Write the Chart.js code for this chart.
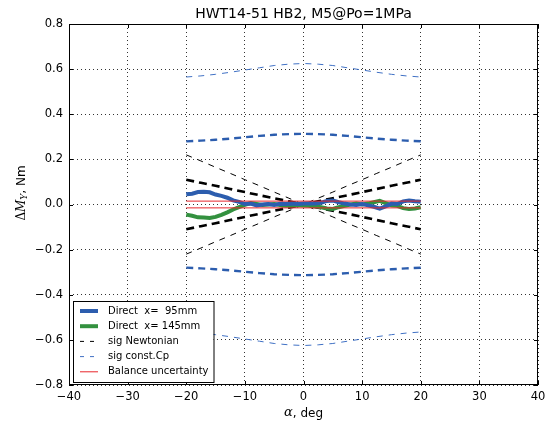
<!DOCTYPE html>
<html>
<head>
<meta charset="utf-8">
<script src="https://cdn.jsdelivr.net/npm/chart.js@4.4.1/dist/chart.umd.min.js"></script>
<style>
  html, body { margin: 0; padding: 0; background: #fff; }
  #wrap { width: 551px; height: 425px; }
</style>
</head>
<body>
<div id="wrap"><canvas id="c" width="551" height="425"></canvas></div>
<script>
// measured points, alpha in deg
const alpha = [-20,-19,-18,-17,-16,-15,-14,-13,-12,-11,-10,-9,-8,-7,-6,-5,-4,-3,-2,-1,0,
               1,2,3,4,5,6,7,8,9,10,11,12,13,14,15,16,17,18,19,20];
const direct95 = [0.045,0.048,0.055,0.056,0.054,0.044,0.038,0.030,0.018,0.012,0.002,
                  0.004,-0.004,0.000,0.002,-0.002,0.003,0.002,0.004,0.002,0.004,
                  0.006,0.004,0.008,0.016,0.018,0.010,0.004,0.000,-0.002,0.002,
                  -0.004,-0.010,-0.018,-0.008,0.004,0.002,0.014,0.018,0.014,0.012];
const direct145 = [-0.045,-0.050,-0.057,-0.058,-0.060,-0.055,-0.046,-0.035,-0.022,-0.012,-0.002,
                   0.006,0.002,-0.002,0.000,0.002,-0.002,-0.006,-0.004,-0.002,-0.004,
                   -0.006,-0.008,-0.012,-0.018,-0.020,-0.012,-0.006,0.000,0.004,0.000,
                   0.004,0.010,0.016,0.006,-0.004,-0.006,-0.016,-0.020,-0.018,-0.012];

// sigma bands (plotted as +/-)
const sigAlpha = [-20,-17.5,-15,-12.5,-10,-7.5,-5,-2.5,0,2.5,5,7.5,10,12.5,15,17.5,20];
const sigNewton1 = [0.110,0.096,0.083,0.069,0.055,0.041,0.028,0.014,0,0.014,0.028,0.041,0.055,0.069,0.083,0.096,0.110];
const sigNewton2 = [0.220,0.193,0.165,0.138,0.110,0.083,0.055,0.028,0,0.028,0.055,0.083,0.110,0.138,0.165,0.193,0.220];
const sigCp1 = [0.280,0.283,0.287,0.292,0.298,0.304,0.309,0.312,0.313,0.312,0.309,0.304,0.298,0.292,0.287,0.283,0.280];
const sigCp2 = [0.565,0.570,0.577,0.586,0.596,0.606,0.616,0.622,0.625,0.622,0.616,0.606,0.596,0.586,0.577,0.570,0.565];

const balAlpha = [-20, 20];
const balance = [0.015, 0.015];

const xTicks = [-40,-30,-20,-10,0,10,20,30,40];
const yTicks = [-0.8,-0.6,-0.4,-0.2,0,0.2,0.4,0.6,0.8];

const legendLabels = ['Direct  x=  95mm', 'Direct  x= 145mm', 'sig Newtonian', 'sig const.Cp', 'Balance uncertainty'];
const titleText = 'HWT14-51 HB2, M5@Po=1MPa';

const BLUE = '#2c5dae';
const GREEN = '#33913f';
const LBLUE = '#3f70c4';
const RED = '#e8262b';
const FONT = "'DejaVu Sans', sans-serif";

const pts = (xs, ys, sign = 1) => xs.map((x, i) => ({ x, y: sign * ys[i] }));
const line = (data, color, width, dash) => ({
  data, borderColor: color, borderWidth: width, borderDash: dash || [],
  pointRadius: 0, fill: false, tension: 0
});

// index 0 is drawn on top
const datasets = [
  line(pts(balAlpha, balance), RED, 1),
  line(pts(balAlpha, balance, -1), RED, 1),
  line(pts(alpha, direct95), BLUE, 4),
  line(pts(alpha, direct145), GREEN, 4),
  line(pts(sigAlpha, sigNewton1), '#000', 2.6, [8, 5]),
  line(pts(sigAlpha, sigNewton1, -1), '#000', 2.6, [8, 5]),
  line(pts(sigAlpha, sigNewton2), '#000', 1, [6, 6]),
  line(pts(sigAlpha, sigNewton2, -1), '#000', 1, [6, 6]),
  line(pts(sigAlpha, sigCp1), BLUE, 2.4, [7, 5]),
  line(pts(sigAlpha, sigCp1, -1), BLUE, 2.4, [7, 5]),
  line(pts(sigAlpha, sigCp2), LBLUE, 1, [6, 6]),
  line(pts(sigAlpha, sigCp2, -1), LBLUE, 1, [6, 6]),
];

const fmt = (v, d) => {
  if (Math.abs(v) < 1e-9) return d ? (0).toFixed(d) : '0';
  return v.toFixed(d).replace('-', '\u2212');
};

const decor = {
  id: 'decor',
  afterDraw(chart) {
    const { ctx, chartArea: a, scales: { x, y } } = chart;
    ctx.save();
    // frame + inward ticks
    ctx.strokeStyle = '#000';
    ctx.lineWidth = 1;
    ctx.setLineDash([]);
    ctx.strokeRect(a.left + 0.5, a.top + 0.5, a.right - a.left - 1, a.bottom - a.top - 1);
    ctx.beginPath();
    xTicks.forEach(t => {
      const px = Math.round(x.getPixelForValue(t)) + 0.5;
      ctx.moveTo(px, a.bottom); ctx.lineTo(px, a.bottom - 4);
      ctx.moveTo(px, a.top); ctx.lineTo(px, a.top + 4);
    });
    yTicks.forEach(t => {
      const py = Math.round(y.getPixelForValue(t)) + 0.5;
      ctx.moveTo(a.left, py); ctx.lineTo(a.left + 4, py);
      ctx.moveTo(a.right, py); ctx.lineTo(a.right - 4, py);
    });
    ctx.stroke();

    // title
    ctx.fillStyle = '#000';
    ctx.font = '14px ' + FONT;
    ctx.textAlign = 'center';
    ctx.textBaseline = 'middle';
    ctx.fillText(titleText, (a.left + a.right) / 2, 14);

    // x label
    ctx.font = 'italic 13px DejaVu Serif, serif';
    const w1 = ctx.measureText('\u03b1').width;
    ctx.font = '12px ' + FONT;
    const w2 = ctx.measureText(', deg').width;
    let sx = (a.left + a.right) / 2 - (w1 + w2) / 2;
    ctx.textAlign = 'left';
    ctx.font = 'italic 13px DejaVu Serif, serif';
    ctx.fillText('\u03b1', sx, 413);
    ctx.font = '12px ' + FONT;
    ctx.fillText(', deg', sx + w1, 414);

    // y label, rotated
    ctx.save();
    ctx.translate(22, 193);
    ctx.rotate(-Math.PI / 2);
    const parts = [
      ['\u0394', '12px DejaVu Serif, serif', 0],
      ['M', 'italic 12px DejaVu Serif, serif', 0],
      ['Y', 'italic 9px DejaVu Serif, serif', 3],
      [', Nm', '12px ' + FONT, 0],
    ];
    let tw = 0;
    parts.forEach(p => { ctx.font = p[1]; tw += ctx.measureText(p[0]).width; });
    let cx = -tw / 2;
    parts.forEach(p => {
      ctx.font = p[1];
      ctx.fillText(p[0], cx, p[2]);
      cx += ctx.measureText(p[0]).width;
    });
    ctx.restore();

    // legend box
    const lx = 73, ly = 301, lh = 81;
    ctx.font = '10px ' + FONT;
    const textX = lx + 35;
    const maxW = Math.max(...legendLabels.map(s => ctx.measureText(s).width));
    const lw = textX + maxW + 5 - lx;
    ctx.fillStyle = '#fff';
    ctx.fillRect(lx, ly, lw, lh);
    ctx.strokeStyle = '#000';
    ctx.lineWidth = 1;
    ctx.strokeRect(lx + 0.5, ly + 0.5, lw, lh);
    const styles = [
      { c: BLUE, w: 4, d: [] },
      { c: GREEN, w: 4, d: [] },
      { c: '#000', w: 1, d: [4, 6] },
      { c: LBLUE, w: 1, d: [4, 6] },
      { c: RED, w: 1, d: [] },
    ];
    legendLabels.forEach((s, i) => {
      const yy = ly + 10 + i * 15.2;
      const st = styles[i];
      ctx.strokeStyle = st.c;
      ctx.lineWidth = st.w;
      ctx.setLineDash(st.d);
      ctx.beginPath();
      ctx.moveTo(lx + 7, yy);
      ctx.lineTo(lx + 25, yy);
      ctx.stroke();
      ctx.setLineDash([]);
      ctx.fillStyle = '#000';
      ctx.textBaseline = 'middle';
      ctx.fillText(s, textX, yy);
    });
    ctx.restore();
  }
};

new Chart(document.getElementById('c'), {
  type: 'line',
  data: { datasets },
  options: {
    responsive: false,
    animation: false,
    layout: { padding: { top: 24, right: 13, left: 0, bottom: 0 } },
    plugins: { legend: { display: false }, tooltip: { enabled: false }, title: { display: false } },
    scales: {
      x: {
        type: 'linear', min: -40, max: 40,
        afterFit(s) { s.height = 40; },
        afterBuildTicks(s) { s.ticks = xTicks.map(v => ({ value: v })); },
        ticks: { color: '#000', font: { family: FONT, size: 11.5 }, padding: 5, maxRotation: 0,
                 callback: v => fmt(v, 0) },
        grid: { color: '#333', lineWidth: 1, drawTicks: false },
        border: { display: false, dash: [1, 3] }
      },
      y: {
        type: 'linear', min: -0.8, max: 0.8,
        afterFit(s) { s.width = 69; },
        afterBuildTicks(s) { s.ticks = yTicks.map(v => ({ value: v })); },
        ticks: { color: '#000', font: { family: FONT, size: 11.5 }, padding: 6,
                 callback: v => fmt(v, 1) },
        grid: { color: '#333', lineWidth: 1, drawTicks: false },
        border: { display: false, dash: [1, 3] }
      }
    }
  },
  plugins: [decor]
});
</script>
</body>
</html>
